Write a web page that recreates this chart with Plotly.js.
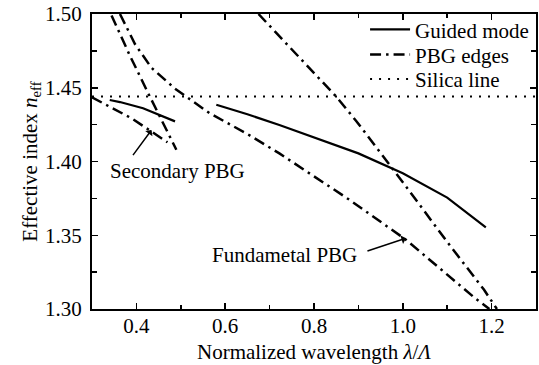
<!DOCTYPE html>
<html>
<head>
<meta charset="utf-8">
<script src="https://cdn.plot.ly/plotly-3.0.1.min.js"></script>
<style>html,body{margin:0;padding:0;background:#fff;}#chart{width:539px;height:365px;}</style>
</head>
<body>
<div id="chart"></div>
<script>
// Guided mode (two branches)
const guided1X = [0.340, 0.363, 0.415, 0.450, 0.487];
const guided1Y = [1.4417, 1.4403, 1.4361, 1.4320, 1.4272];
const guided2X = [0.580, 0.650, 0.722, 0.800, 0.900, 1.000, 1.100, 1.187];
const guided2Y = [1.4385, 1.4320, 1.4247, 1.4165, 1.4055, 1.3920, 1.3755, 1.3554];

// PBG edges
const edgeAX = [0.344, 0.385, 0.427, 0.445, 0.471, 0.490];
const edgeAY = [1.499, 1.472, 1.446, 1.435, 1.419, 1.408];
const edgeBX = [0.363, 0.397, 0.434, 0.487, 0.565, 0.648, 0.722, 0.800, 0.880, 1.007, 1.104, 1.164, 1.195];
const edgeBY = [1.500, 1.4795, 1.4635, 1.4494, 1.4327, 1.419, 1.4055, 1.390, 1.374, 1.347, 1.322, 1.307, 1.300];
const edgeCX = [0.675, 0.760, 0.850, 0.895, 1.000, 1.100, 1.183, 1.212];
const edgeCY = [1.500, 1.473, 1.444, 1.4275, 1.386, 1.3455, 1.313, 1.300];
const edgeDX = [0.300, 0.340, 0.389, 0.423, 0.445, 0.470];
const edgeDY = [1.4435, 1.437, 1.4293, 1.4225, 1.418, 1.413];

// Silica line
const silicaX = [0.3, 1.3];
const silicaY = [1.444, 1.444];

// Legend names and labels
const seriesNames = ['Guided mode', 'PBG edges', 'Silica line'];
const labelSecondary = 'Secondary PBG';
const labelFundamental = 'Fundametal PBG';

const FONT = 'Liberation Serif';
const guidedLine = {color: '#000', width: 2.2, dash: 'solid'};
const edgeLine = {color: '#000', width: 2.5, dash: '11px,5px,2.5px,5px'};
const silicaLine = {color: '#000', width: 2, dash: '2px,7px'};

function tr(x, y, name, line, show, leg) {
  return {x: x, y: y, type: 'scatter', mode: 'lines', name: name, line: line,
          showlegend: show, legend: leg, hoverinfo: 'skip'};
}

const data = [
  tr(guided1X, guided1Y, seriesNames[0], guidedLine, true, 'legend'),
  tr(guided2X, guided2Y, seriesNames[0], guidedLine, false, 'legend'),
  tr(edgeAX, edgeAY, seriesNames[1], edgeLine, true, 'legend2'),
  tr(edgeBX, edgeBY, seriesNames[1], edgeLine, false, 'legend2'),
  tr(edgeCX, edgeCY, seriesNames[1], edgeLine, false, 'legend2'),
  tr(edgeDX, edgeDY, seriesNames[1], edgeLine, false, 'legend2'),
  tr(silicaX, silicaY, seriesNames[2], silicaLine, true, 'legend3')
];

const axisCommon = {
  showline: true, linewidth: 2, linecolor: '#000', mirror: 'ticks',
  ticks: 'inside', ticklen: 6, tickwidth: 1.5, tickcolor: '#000',
  showgrid: false, zeroline: false,
  tickfont: {family: FONT, size: 21, color: '#000'}
};

function leg(y) {
  return {x: 0.615, y: y, xanchor: 'left', yanchor: 'top', bgcolor: 'rgba(0,0,0,0)',
          font: {family: FONT, size: 21, color: '#000'}, itemwidth: 40};
}

const layout = {
  width: 539, height: 365,
  margin: {l: 92, r: 3, t: 14, b: 56},
  paper_bgcolor: '#fff', plot_bgcolor: '#fff',
  font: {family: FONT, size: 21, color: '#000'},
  xaxis: Object.assign({}, axisCommon, {
    range: [0.3, 1.3], tick0: 0, dtick: 0.2, tickformat: '.1f',
    ticklabelstandoff: -3,
    minor: {dtick: 0.1, ticks: 'inside', ticklen: 4, tickwidth: 1.5, tickcolor: '#000'},
    title: {text: 'Normalized wavelength <i>λ</i>/<i>Λ</i>', font: {family: FONT, size: 21}, standoff: 7}
  }),
  yaxis: Object.assign({}, axisCommon, {
    range: [1.3, 1.5], tick0: 0, dtick: 0.05, tickformat: '.2f',
    minor: {dtick: 0.025, ticks: 'inside', ticklen: 5, tickwidth: 1.5, tickcolor: '#000'},
    ticklabelstandoff: 4,
    title: {text: 'Effective index <i>n</i><sub>eff</sub>', font: {family: FONT, size: 21}, standoff: 2}
  }),
  legend: leg(1.016),
  legend2: leg(0.931),
  legend3: leg(0.848),
  annotations: [
    {x: 0.492, y: 1.3936, xref: 'x', yref: 'y', text: labelSecondary, showarrow: false,
     font: {family: FONT, size: 21}},
    {x: 0.7326, y: 1.3366, xref: 'x', yref: 'y', text: labelFundamental, showarrow: false,
     font: {family: FONT, size: 21}},
    {x: 0.434, y: 1.4213, ax: 0.389, ay: 1.403, axref: 'x', ayref: 'y', xref: 'x', yref: 'y',
     text: ' ', font: {size: 1}, showarrow: true, arrowhead: 1, arrowsize: 1, arrowwidth: 1.5, arrowcolor: '#000'},
    {x: 1.007, y: 1.348, ax: 0.917, ay: 1.339, axref: 'x', ayref: 'y', xref: 'x', yref: 'y',
     text: ' ', font: {size: 1}, showarrow: true, arrowhead: 1, arrowsize: 1, arrowwidth: 1.5, arrowcolor: '#000'}
  ]
};

Plotly.newPlot('chart', data, layout, {staticPlot: true, displayModeBar: false});
</script>
</body>
</html>
